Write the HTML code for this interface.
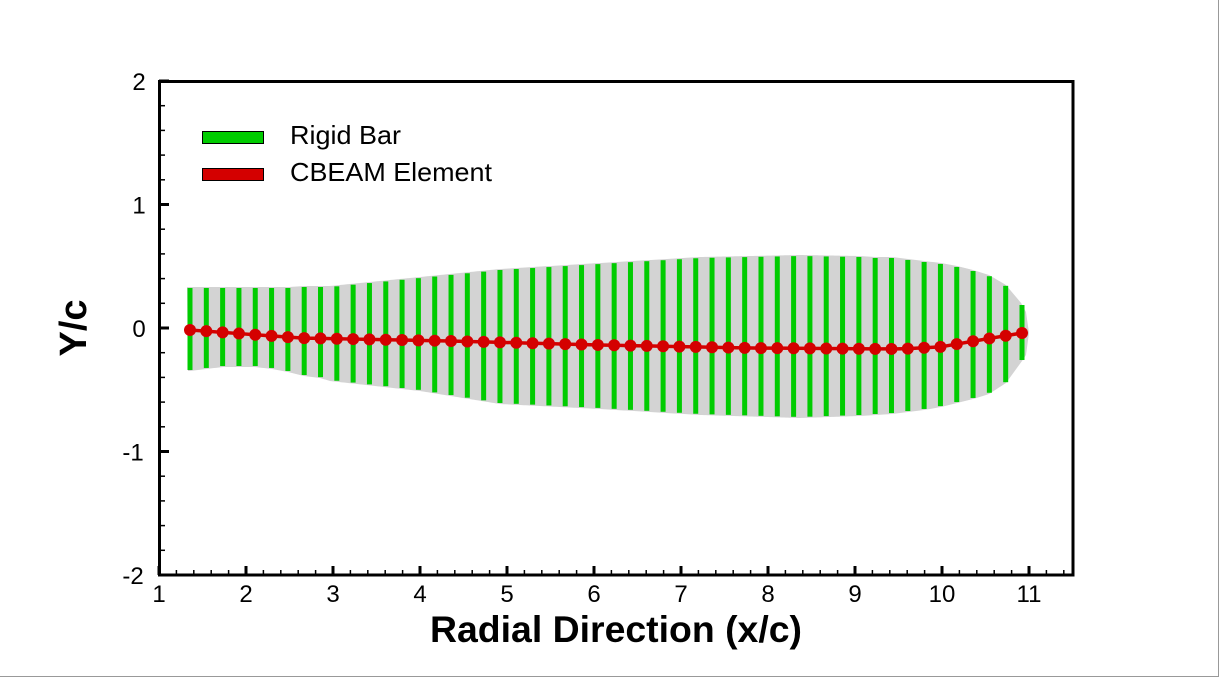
<!DOCTYPE html>
<html><head><meta charset="utf-8"><style>
html,body{margin:0;padding:0;background:#fff;}
svg{display:block;font-family:"Liberation Sans",Arial,sans-serif;}
</style></head><body>
<svg id="s" width="1220" height="678" viewBox="0 0 1220 678" xmlns="http://www.w3.org/2000/svg">
<rect x="0" y="0" width="1220" height="678" fill="#fff"/>
<line x1="1218.5" y1="0" x2="1218.5" y2="677" stroke="#999" stroke-width="1"/>
<line x1="0" y1="676.5" x2="1219" y2="676.5" stroke="#999" stroke-width="1"/>
<g id="plot"></g>
<rect x="159.5" y="81.5" width="913.5" height="493.5" fill="none" stroke="#000" stroke-width="3"/>
<g id="ticks" stroke="#000"></g>
<g font-size="24" fill="#000" text-anchor="middle" id="labels"></g>
<rect x="202.5" y="131.5" width="61" height="12" fill="#00cc00" stroke="#000" stroke-width="1"/>
<rect x="202.5" y="168.5" width="61" height="12" fill="#d40000" stroke="#000" stroke-width="1"/>
<text x="290" y="144" font-size="26" textLength="111" lengthAdjust="spacingAndGlyphs">Rigid Bar</text>
<text x="290" y="181" font-size="26" textLength="202" lengthAdjust="spacingAndGlyphs">CBEAM Element</text>
<text x="616" y="642" font-size="37" font-weight="bold" text-anchor="middle" textLength="372" lengthAdjust="spacingAndGlyphs">Radial Direction (x/c)</text>
<text x="0" y="0" font-size="38" font-weight="bold" text-anchor="middle" transform="translate(86,328) rotate(-90)" textLength="57" lengthAdjust="spacingAndGlyphs">Y/c</text>
</svg>
<script>
const NS="http://www.w3.org/2000/svg";
function el(p,t,a){const e=document.createElementNS(NS,t);for(const k in a)e.setAttribute(k,a[k]);p.appendChild(e);return e;}
function interp(xs,ys,x){if(x<=xs[0])return ys[0];for(let i=1;i<xs.length;i++){if(x<=xs[i]){const t=(x-xs[i-1])/(xs[i]-xs[i-1]);return ys[i-1]+t*(ys[i]-ys[i-1]);}}return ys[ys.length-1];}
const ex=[190,206,223,239,255,272,288,304,320,330,420,500,600,700,800,859,875,892,908,924,941,957,973,989,1006,1022];
const et=[288,288,288,288,288,288,288,287,287,287,278,270,264,258,256,257,258,258,260,262,264,267,271,276,286,305];
const eb=[370,368,366,366,366,368,371,375,377,380,390,403,408,414,417,415,414,413,411,409,406,402,398,393,382,360];
const lx=[190,300,450,600,750,900,940,980,1022];
const ly=[330,338,341,345,348,349,347,340,333];
const plot=document.getElementById('plot');
let pts=[];
for(let x=187;x<=1022;x+=2)pts.push([x,interp(ex,et,x)-1]);
pts.push([1026,312],[1029,333],[1026,355]);
for(let x=1022;x>=187;x-=2)pts.push([x,interp(ex,eb,x)+1]);
el(plot,'polygon',{points:pts.map(p=>p.join(',')).join(' '),fill:'#d3d3d3'});
const n=52,x0=190,x1=1022;
const bx=[];for(let i=0;i<n;i++)bx.push(x0+(x1-x0)*i/(n-1));
bx.forEach(x=>el(plot,'rect',{x:x-2.5,y:interp(ex,et,x),width:5,height:interp(ex,eb,x)-interp(ex,et,x),fill:'#00cc00'}));
el(plot,'polyline',{points:bx.map(x=>x+','+interp(lx,ly,x)).join(' '),fill:'none',stroke:'#d40000','stroke-width':3.5});
bx.forEach(x=>el(plot,'circle',{cx:x,cy:interp(lx,ly,x),r:6,fill:'#d40000'}));
const tk=document.getElementById('ticks'),lb=document.getElementById('labels');
const X=v=>159+(v-1)*87, Y=v=>328-v*123.5;
for(let v=1;v<=11.5001;v+=0.2){const x=X(v);const major=Math.abs(v-Math.round(v))<1e-6;
 el(tk,'line',{x1:x,x2:x,y1:575,y2:major?566:570,'stroke-width':major?3:1.5});}
for(let v=1;v<=11;v++){const t=el(lb,'text',{x:X(v),y:602});t.textContent=v;}
for(let v=-2;v<=2.0001;v+=0.2){const y=Y(v);const major=Math.abs(v-Math.round(v))<1e-6;
 el(tk,'line',{x1:159,x2:major?169:165,y1:y,y2:y,'stroke-width':major?3:1.5});}
for(let v=-2;v<=2;v++){const t=el(lb,'text',{x:v<0?133:139,y:Y(v)+9});t.textContent=v;}
</script>
</body></html>
